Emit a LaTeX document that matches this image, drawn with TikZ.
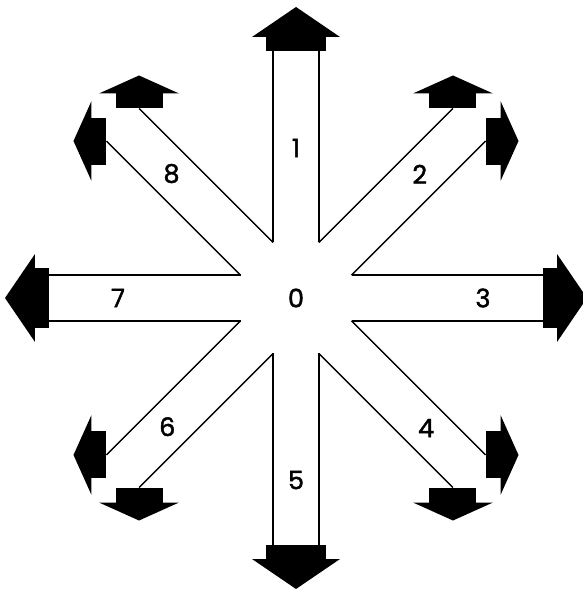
\documentclass[tikz,border=0pt]{standalone}
\usepackage{fontspec}
\newfontfamily\digitfont{Poppins}[FakeBold=1.6]
\usetikzlibrary{calc}
\tikzset{
  armline/.style={line width=0.8pt, black},
  digit/.style={font=\digitfont\fontsize{14.5}{16}\selectfont, inner sep=1pt}
}
% arrow heads, drawn pointing along +x from the origin
\newcommand{\bighead}{%
  \fill (0,-30) rectangle (14,30);
  \fill (14,-44) -- (44,0) -- (14,44) -- cycle;}
\newcommand{\smallhead}{%
  \fill (0,-23.5) rectangle (15,23.5);
  \fill (15,-40) -- (33,0) -- (15,40) -- cycle;}
\begin{document}
\begin{tikzpicture}[x=0.02cm,y=0.02cm]
    \useasboundingbox (-296,-292) rectangle (286,298);
    \coordinate (c) at (0,0);
    \node[digit] (n0) at (c) {0};

    % straight arms
    \foreach \ang/\lab/\d in {90/1/150, 0/3/187, -90/5/182, 180/7/178} {
      \begin{scope}[rotate=\ang]
        \draw[armline] (55.5,23) -- (247,23) (55.5,-23) -- (247,-23);
        \begin{scope}[shift={(247,0)}] \bighead \end{scope}
      \end{scope}
      \node[digit] (n\lab) at (\ang:\d) {\lab};
    }

    % slanted arms, two heads each
    \foreach \ang/\lab/\d in {45/2/175, -45/4/184, -135/6/182, 135/8/176} {
      \begin{scope}[rotate=\ang]
        \draw[armline] (55.5,23) -- (245,23) (55.5,-23) -- (245,-23);
        \begin{scope}[shift={(245,23)}, rotate=45] \smallhead \end{scope}
        \begin{scope}[shift={(245,-23)}, rotate=-45] \smallhead \end{scope}
      \end{scope}
      \node[digit] (n\lab) at (\ang:\d) {\lab};
    }
\end{tikzpicture}
\end{document}
